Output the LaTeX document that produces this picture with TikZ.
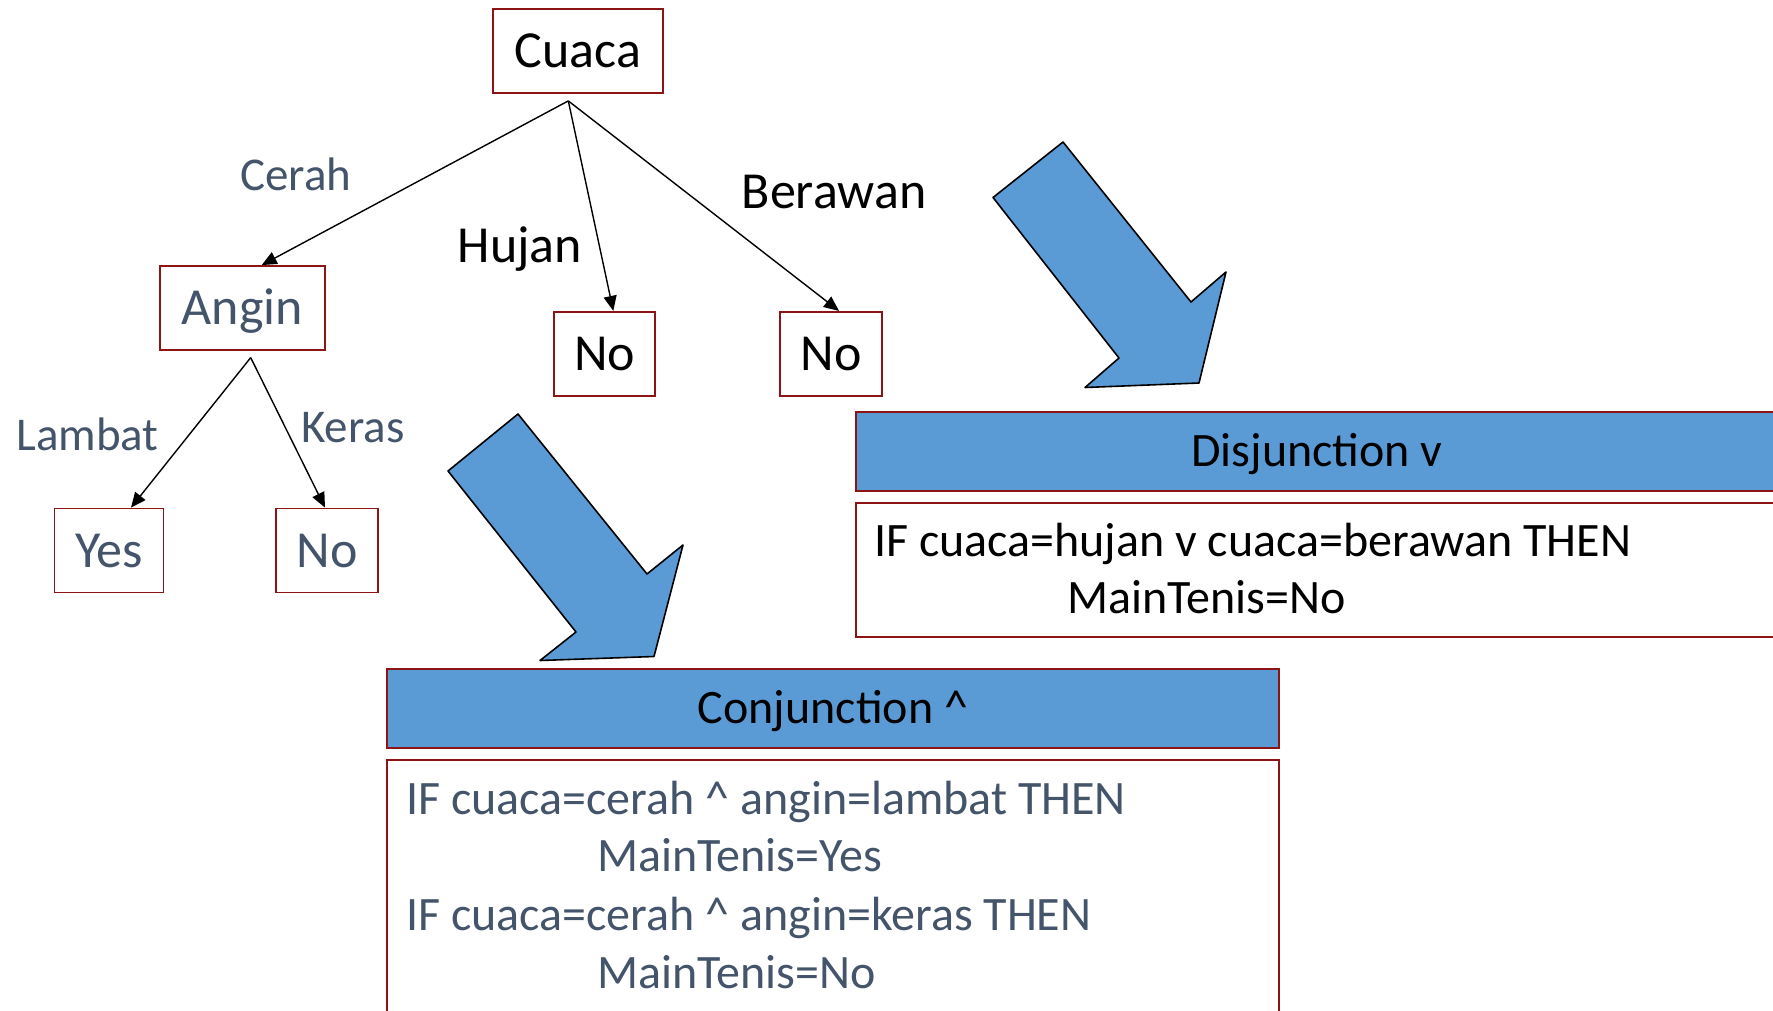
\documentclass[tikz,border=0pt]{standalone}
\usepackage{fontspec}
\setmainfont{Carlito}
\usetikzlibrary{arrows.meta,calc}
\definecolor{boxred}{RGB}{140,20,20}
\definecolor{hdrblue}{RGB}{91,155,213}
\definecolor{slate}{RGB}{68,84,106}
\begin{document}
\begin{tikzpicture}[x=1pt,y=-1pt,
  treebox/.style={draw=boxred,line width=1.8pt,fill=white,inner sep=0pt,
    minimum height=84pt,text height=33pt,text depth=0pt,
    font=\fontsize{52}{62}\selectfont},
  edgelabel/.style={anchor=base,inner sep=0pt},
  biglabel/.style={edgelabel,font=\fontsize{52}{62}\selectfont},
  smalllabel/.style={edgelabel,text=slate,font=\fontsize{47}{56}\selectfont},
  conn/.style={draw=black,line width=1.4pt,-{Triangle[length=15pt,width=13pt]}},
  fatarrow/.style={fill=hdrblue,draw=black,line width=1.6pt,line join=round},
  header/.style={draw=boxred,line width=1.8pt,fill=hdrblue,inner sep=0pt,
    text height=30pt,text depth=0pt,font=\fontsize{48}{58}\selectfont},
  rulebox/.style={draw=boxred,line width=1.8pt,fill=white,inner sep=0pt},
  ruleline/.style={anchor=base west,inner sep=0pt,font=\fontsize{48}{58}\selectfont}
]
\useasboundingbox (0,0) rectangle (1773,1010);

% decision tree
\node[treebox,minimum width=170pt] (cuaca) at (577.9,51.3) {Cuaca};
\node[treebox,minimum width=165pt,text=slate] (angin) at (242.4,308) {Angin};
\node[treebox,minimum width=101pt] (nohujan) at (604.5,353.8) {No};
\node[treebox,minimum width=102pt] (noberawan) at (831,353.8) {No};
\node[treebox,minimum width=109pt,text=slate] (yes) at (109,550.5) {Yes};
\node[treebox,minimum width=102pt,text=slate] (nokeras) at (327,550.5) {No};

\coordinate (cuacaout) at ($(cuaca.south)+(-9.6,6.7)$);
\coordinate (anginout) at ($(angin.south)+(8.3,6.7)$);

\draw[conn] (cuacaout) -- ($(angin.north)+(19.3,0)$);
\draw[conn] (cuacaout) -- ($(nohujan.north)+(8.8,0)$);
\draw[conn] (cuacaout) -- ($(noberawan.north)+(8,0)$);
\draw[conn] (anginout) -- ($(yes.north)+(22,0)$);
\draw[conn] (anginout) -- ($(nokeras.north)+(-2,0)$);

\node[smalllabel] (lcerah) at (296,190) {Cerah};
\node[biglabel] (lhujan) at (520,262) {Hujan};
\node[biglabel] (lberawan) at (834,208) {Berawan};
\node[smalllabel] (llambat) at (87.5,450) {Lambat};
\node[smalllabel] (lkeras) at (353,442) {Keras};

% block arrows
\draw[fatarrow] (993,197.5) -- (1063,142) -- (1191,302) -- (1226,272)
  -- (1199,383) -- (1085,387.5) -- (1119,358) -- cycle;
\draw[fatarrow] (448,471) -- (518,414) -- (647,574) -- (683,545)
  -- (654,656.5) -- (540,660.5) -- (576,632) -- cycle;

% disjunction rule
\node[header,minimum width=922.6pt,minimum height=78.4pt] (dishead) at (1317,451.5) {Disjunction v};
\node[rulebox,minimum width=922.6pt,minimum height=133.4pt] (disbody) at (1317,570) {};
\node[ruleline] (dis1) at (874,556.7) {IF cuaca=hujan v cuaca=berawan THEN};
\node[ruleline] (dis2) at (1067,613.3) {MainTenis=No};

% conjunction rule
\node[header,minimum width=892.6pt,minimum height=79.3pt] (conhead) at (833,708.7) {Conjunction \^{}};
\node[rulebox,minimum width=892.6pt,minimum height=280pt] (conbody) at (833,900) {};
\node[ruleline,text=slate] (con1) at (406,814) {IF cuaca=cerah \^{} angin=lambat THEN};
\node[ruleline,text=slate] (con2) at (597,871.7) {MainTenis=Yes};
\node[ruleline,text=slate] (con3) at (406,930.7) {IF cuaca=cerah \^{} angin=keras THEN};
\node[ruleline,text=slate] (con4) at (597,988.3) {MainTenis=No};
\end{tikzpicture}
\end{document}
